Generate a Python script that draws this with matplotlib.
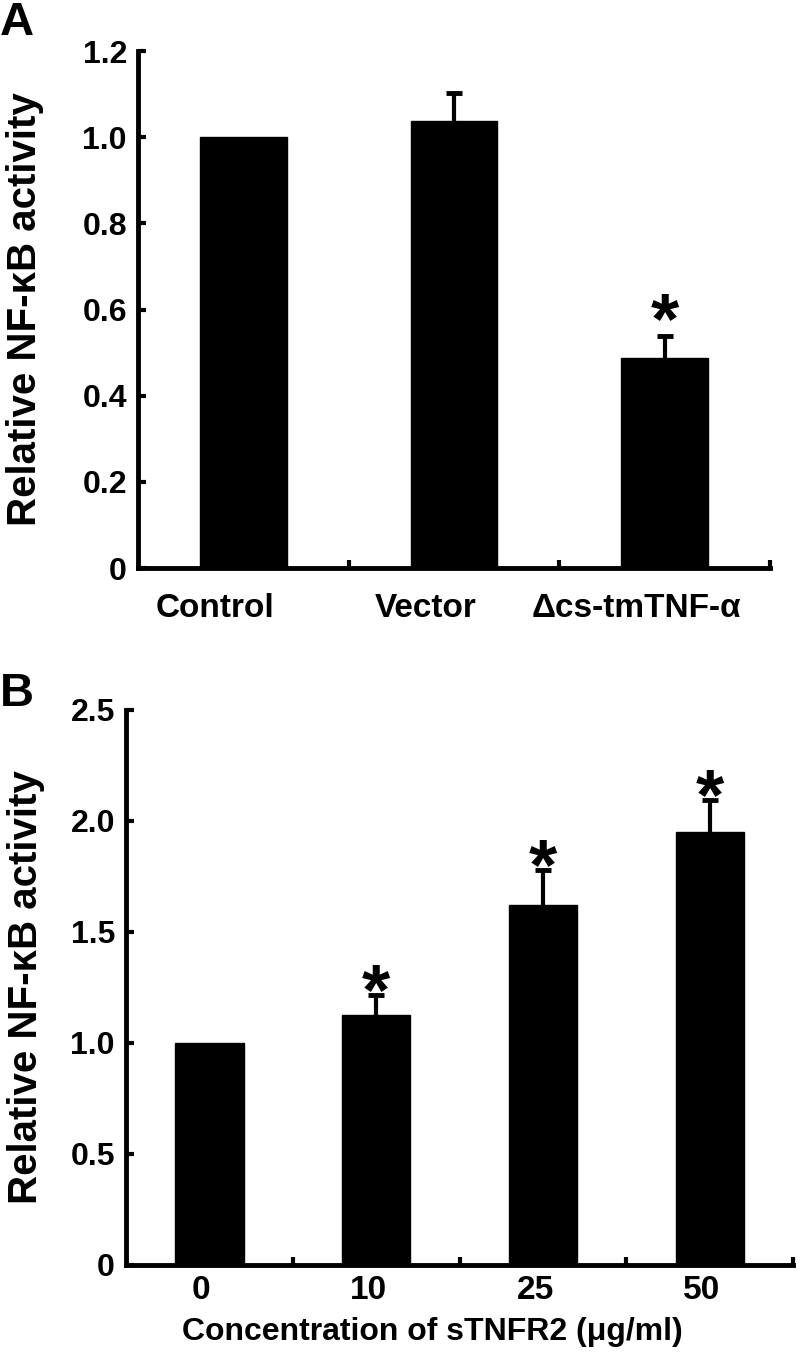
import numpy as np
import matplotlib
matplotlib.use("Agg")
import matplotlib.pyplot as plt
import matplotlib.transforms as mtransforms

plt.rcParams['font.family'] = ['Liberation Sans', 'DejaVu Sans']
plt.rcParams['font.weight'] = 'bold'

# panel A data
groups_a = ["Control", "Vector", "\u0394cs-tmTNF-\u03b1"]
vals_a = [1.0, 1.037, 0.488]
errs_a = [0.0, 0.065, 0.05]
sig_a = [False, False, True]
yticks_a = [0, 0.2, 0.4, 0.6, 0.8, 1.0, 1.2]
ylabels_a = ["0", "0.2", "0.4", "0.6", "0.8", "1.0", "1.2"]

# panel B data
groups_b = ["0", "10", "25", "50"]
vals_b = [1.0, 1.126, 1.62, 1.95]
errs_b = [0.0, 0.09, 0.16, 0.145]
sig_b = [False, True, True, True]
yticks_b = [0, 0.5, 1.0, 1.5, 2.0, 2.5]
ylabels_b = ["0", "0.5", "1.0", "1.5", "2.0", "2.5"]

ylab = "Relative NF-\u03baB activity"

fig = plt.figure(figsize=(8, 13.58), dpi=100)
ax_a = fig.add_axes([0.1725, 0.5817, 0.79, 0.3807])
ax_b = fig.add_axes([0.1575, 0.0685, 0.834, 0.4087])


def draw_panel(ax, groups, vals, errs, sig, yticks, ylabels, ymax, lab_pad, star_off, lab_shift, xfs):
    x = np.arange(len(groups))
    vals = np.array(vals)
    errs = np.array(errs)
    ax.bar(x, vals, width=0.41, color='black', edgecolor='black')
    has = errs > 0
    _, caps, _ = ax.errorbar(x[has], vals[has], yerr=[np.zeros(has.sum()), errs[has]], fmt='none',
                             ecolor='black', elinewidth=3, capsize=6, capthick=3.5)
    caps[0].set_visible(False)
    for xi, v, e, s in zip(x, vals, errs, sig):
        if s:
            ax.annotate('*', xy=(xi, v + e), xytext=(0, star_off), textcoords='offset points',
                        ha='center', va='baseline', fontsize=52, fontweight='bold')
    ax.set_xlim(-0.5, len(groups) - 0.5)
    ax.set_ylim(0, ymax)
    ax.set_yticks(yticks)
    ax.set_yticklabels(ylabels, fontsize=23, fontweight='bold')
    ax.set_xticks(x)
    ax.set_xticklabels(groups, fontsize=xfs, fontweight='bold')
    ax.set_xticks(np.arange(len(groups)) + 0.5, minor=True)
    ax.tick_params(axis='x', which='major', length=0, pad=lab_pad)
    ax.tick_params(axis='x', which='minor', direction='in', length=6, width=3)
    ax.tick_params(axis='y', direction='in', length=6, width=3, pad=8)
    off = mtransforms.ScaledTranslation(lab_shift / 100, 0, fig.dpi_scale_trans)
    for t in ax.get_xticklabels():
        t.set_transform(t.get_transform() + off)
    for side in ['top', 'right']:
        ax.spines[side].set_visible(False)
    for side in ['left', 'bottom']:
        ax.spines[side].set_linewidth(3.5)
    ax.set_ylabel(ylab, fontsize=29, fontweight='bold')


draw_panel(ax_a, groups_a, vals_a, errs_a, sig_a, yticks_a, ylabels_a, 1.2, 18, -5, -28, 24)
draw_panel(ax_b, groups_b, vals_b, errs_b, sig_b, yticks_b, ylabels_b, 2.5, 7, -14, -8, 24)

ax_a.yaxis.set_label_coords(-0.148, 0.5)
ax_b.yaxis.set_label_coords(-0.122, 0.5)
ax_b.set_xlabel("Concentration of sTNFR2 (\u03bcg/ml)", fontsize=23, fontweight='bold')
ax_b.xaxis.set_label_coords(0.459, -0.094)

fig.text(0.0, 0.999, "A", fontsize=34, fontweight='bold', va='top', ha='left')
fig.text(0.0, 0.505, "B", fontsize=34, fontweight='bold', va='top', ha='left')

fig.savefig("out.png", dpi=100)
